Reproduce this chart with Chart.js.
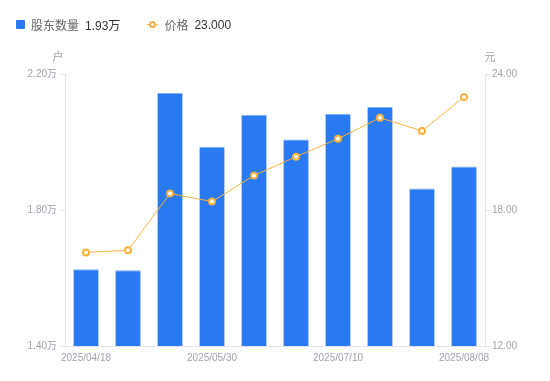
<!DOCTYPE html>
<html><head><meta charset="utf-8">
<script src="https://cdn.jsdelivr.net/npm/chart.js@4/dist/chart.umd.min.js"></script>
<style>
html,body{margin:0;padding:0;background:#fff;}
#wrap{position:relative;width:550px;height:381px;}
#legend{position:absolute;left:16px;top:16px;font:12px 'Liberation Sans','Noto Sans CJK SC',sans-serif;color:#666;display:flex;align-items:center;white-space:nowrap;}
.sq{display:inline-block;width:9px;height:9px;background:#2979F2;border-radius:1px;margin-right:6px;}
.val{color:#333;margin-left:6px;}
.ln{display:inline-block;position:relative;width:11px;height:9px;margin-right:6px;margin-left:27px;}
.ln:before{content:'';position:absolute;left:0;right:0;top:4px;height:1px;background:#F6B13D;}
.ln:after{content:'';position:absolute;left:2px;top:1px;width:3px;height:3px;border:2px solid #F6B13D;border-radius:50%;background:#fff;}
</style></head>
<body><div id="wrap"><canvas id="c" width="550" height="381"></canvas>
<div id="legend"><span class="sq"></span><span>股东数量</span><span class="val">1.93万</span><span class="ln"></span><span>价格</span><span class="val">23.000</span></div></div>
<script>
const categories = ['2025/04/18','2025/04/30','2025/05/20','2025/05/30','2025/06/10','2025/06/20','2025/07/10','2025/07/18','2025/07/31','2025/08/08'];
const holders = [16260, 16230, 21440, 19860, 20800, 20070, 20830, 21030, 18630, 19280];
const prices = [16.13, 16.22, 18.73, 18.37, 19.52, 20.35, 21.14, 22.07, 21.49, 22.99];
const leftTicks = [14000, 18000, 22000];
const rightTicks = [12, 18, 24];
const FONT = "'Liberation Sans','Noto Sans CJK SC',sans-serif";
const TICKCOL = '#a0a2b0';
const AXISCOL = '#e3e3e8';

const titles = {
  id: 'axisTitles',
  afterDraw(chart) {
    const ctx = chart.ctx, a = chart.chartArea;
    ctx.save();
    ctx.font = '11px ' + FONT;
    ctx.fillStyle = TICKCOL;
    ctx.textAlign = 'center';
    ctx.textBaseline = 'middle';
    ctx.fillText('户', a.left - 7, a.top - 16);
    ctx.fillText('元', a.right + 5, a.top - 16);
    ctx.restore();
  }
};

new Chart(document.getElementById('c'), {
  data: {
    labels: categories,
    datasets: [
      { type: 'line', label: '价格', data: prices, yAxisID: 'y1', order: 0,
        borderColor: '#F6B13D', borderWidth: 1, tension: 0,
        pointRadius: 3, pointBorderWidth: 2, pointBackgroundColor: '#fff', pointBorderColor: '#F6B13D' },
      { type: 'bar', label: '股东数量', data: holders, yAxisID: 'y', order: 1,
        backgroundColor: '#2979F2', borderColor: '#7EB0F8', borderWidth: {top:1,left:0,right:0,bottom:0}, borderSkipped: 'start',
        barPercentage: 0.6, categoryPercentage: 1.0 }
    ]
  },
  options: {
    responsive: false, animation: false, devicePixelRatio: 1,
    layout: { padding: { top: 74, left: 0, right: 0, bottom: 0 } },
    plugins: { legend: { display: false }, tooltip: { enabled: false } },
    events: [],
    scales: {
      x: {
        offset: true,
        grid: { display: false, drawTicks: false },
        border: { color: AXISCOL },
        ticks: {
          autoSkip: false, maxRotation: 0, padding: 6,
          color: TICKCOL, font: { size: 10, family: FONT },
          callback: function(v, i) { return (i % 3 === 0) ? categories[i] : ''; }
        },
        afterFit(s) { s.height = 35; }
      },
      y: {
        position: 'left', min: 14000, max: 22000,
        afterBuildTicks(s) { s.ticks = leftTicks.map(v => ({ value: v })); },
        grid: { drawOnChartArea: false, tickLength: 4, color: AXISCOL },
        border: { color: AXISCOL },
        ticks: { padding: 4, color: TICKCOL, font: { size: 10, family: FONT },
          callback: v => (v / 10000).toFixed(2) + '万' },
        afterFit(s) { s.width = 65; }
      },
      y1: {
        position: 'right', min: 12, max: 24,
        afterBuildTicks(s) { s.ticks = rightTicks.map(v => ({ value: v })); },
        grid: { drawOnChartArea: false, tickLength: 4, color: AXISCOL },
        border: { color: AXISCOL },
        ticks: { padding: 3, color: TICKCOL, font: { size: 10, family: FONT },
          callback: v => Number(v).toFixed(2) },
        afterFit(s) { s.width = 65; }
      }
    }
  },
  plugins: [titles]
});
</script></body></html>
